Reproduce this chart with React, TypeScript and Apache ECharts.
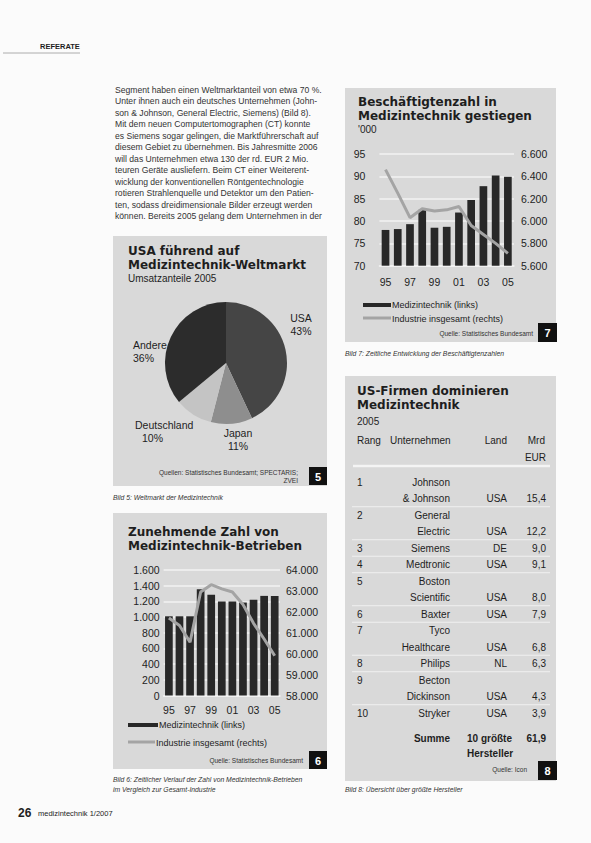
import React, { useEffect, useRef } from 'react';
import * as echarts from 'echarts';

// ---------- DATA ----------
const pieNames = ['USA', 'Japan', 'Deutschland', 'Andere'];
const pieShares = [43, 11, 10, 36];

const yearLabels = ['95', '96', '97', '98', '99', '00', '01', '02', '03', '04', '05'];
// Zunehmende Zahl von Medizintechnik-Betrieben
const betriebeMedizin = [1010, 1010, 1010, 1355, 1285, 1200, 1200, 1185, 1220, 1270, 1270];
const betriebeIndustrie = [61700, 61350, 60550, 62950, 63300, 63100, 62950, 62350, 61450, 60700, 59900];
// Beschäftigtenzahl ('000)
const beschMedizin = [78.0, 78.2, 79.3, 82.5, 78.5, 78.7, 81.9, 84.7, 87.8, 90.2, 89.9];
const beschIndustrie = [6460, 6250, 6030, 6110, 6090, 6100, 6130, 5960, 5880, 5800, 5710];

// Tabelle
const tableRanks = ['1', '2', '3', '4', '5', '6', '7', '8', '9', '10'];
const tableCompanies = [
  ['Johnson', '& Johnson'],
  ['General', 'Electric'],
  ['Siemens'],
  ['Medtronic'],
  ['Boston', 'Scientific'],
  ['Baxter'],
  ['Tyco', 'Healthcare'],
  ['Philips'],
  ['Becton', 'Dickinson'],
  ['Stryker'],
];
const tableCountries = ['USA', 'USA', 'DE', 'USA', 'USA', 'USA', 'USA', 'NL', 'USA', 'USA'];
const tableValues = [15.4, 12.2, 9.0, 9.1, 8.0, 7.9, 6.8, 6.3, 4.3, 3.9];
const tableSum = 61.9;

const paragraphLines = [
  'Segment haben einen Weltmarktanteil von etwa 70 %.',
  'Unter ihnen auch ein deutsches Unternehmen (John-',
  'son & Johnson, General Electric, Siemens) (Bild 8).',
  'Mit dem neuen Computertomographen (CT) konnte',
  'es Siemens sogar gelingen, die Marktführerschaft auf',
  'diesem Gebiet zu übernehmen. Bis Jahresmitte 2006',
  'will das Unternehmen etwa 130 der rd. EUR 2 Mio.',
  'teuren Geräte ausliefern. Beim CT einer Weiterent-',
  'wicklung der konventionellen Röntgentechnologie',
  'rotieren Strahlenquelle und Detektor um den Patien-',
  'ten, sodass dreidimensionale Bilder erzeugt werden',
  'können. Bereits 2005 gelang dem Unternehmen in der',
];

// ---------- STYLE ----------
const FF = '"Liberation Sans", Arial, sans-serif';
const FT = '"DejaVu Sans", "Liberation Sans", sans-serif';
const PANEL = '#d9d9d9';
const INK = '#1e1e1e';
const BAR = '#282828';
const LINE = '#a4a4a4';
const pieColors = ['#454545', '#8e8e8e', '#c4c4c4', '#2c2c2c'];
const pieLabelPos = [
  { x: 301, y: 318, align: 'center' },
  { x: 238, y: 433, align: 'center' },
  { x: 135, y: 425, align: 'left' },
  { x: 133, y: 345, align: 'left' },
];

const fmtDE = (v: number) => String(v).replace(/\B(?=(\d{3})+(?!\d))/g, '.');
const fmtComma = (v: number) => v.toFixed(1).replace('.', ',');

function txt(x: number, y: number, text: string, font: string, align = 'left', fill = INK): any {
  return {
    type: 'text',
    z: 20,
    silent: true,
    style: { x, y, text, font, fill, textAlign: align, textVerticalAlign: 'middle' },
  };
}
function rect(x: number, y: number, w: number, h: number, fill: string, z = 0): any {
  return { type: 'rect', z, silent: true, shape: { x, y, width: w, height: h }, style: { fill } };
}
function hline(x1: number, x2: number, y: number, stroke: string, lw: number, z = 1): any {
  return { type: 'line', z, silent: true, shape: { x1, y1: y, x2, y2: y }, style: { stroke, lineWidth: lw } };
}
function numBox(x: number, y: number, w: number, h: number, n: string): any[] {
  return [rect(x, y, w, h, '#111', 15), txt(x + w / 2, y + h / 2 + 0.5, n, `bold 11px ${FF}`, 'center', '#fff')];
}

export default function App() {
  const ref = useRef<HTMLDivElement>(null);
  useEffect(() => {
    if (!ref.current) return;
    const chart = echarts.init(ref.current, undefined, { renderer: 'svg' });

    const TITLE = `bold 12px ${FT}`;
    const SUB = `10px ${FF}`;
    const SRC = `6.5px ${FF}`;
    const CAP = `italic 6.8px ${FF}`;
    const LEG = `9px ${FF}`;
    const TAB = `10px ${FF}`;
    const TABB = `bold 10px ${FF}`;

    const g: any[] = [];
    // header / footer
    g.push(txt(40, 46, 'REFERATE', `bold 7.5px ${FF}`));
    g.push(hline(3, 80, 53, '#999', 0.8));
    g.push(txt(18, 813, '26', `bold 12px ${FF}`));
    g.push(txt(38, 813, 'medizintechnik 1/2007', `7.5px ${FF}`));

    // paragraph
    paragraphLines.forEach((l, i) => g.push(txt(115, 90 + i * 11.45, l, `8.6px ${FF}`, 'left', '#333')));

    // ---- Panel: Pie ----
    g.push(rect(113, 236, 214, 250, PANEL));
    g.push(txt(128, 251, 'USA führend auf', TITLE));
    g.push(txt(128, 265, 'Medizintechnik-Weltmarkt', TITLE));
    g.push(txt(128, 278, 'Umsatzanteile 2005', SUB));
    pieNames.forEach((n, i) => {
      const p = pieLabelPos[i];
      g.push(txt(p.x, p.y, n, `10.5px ${FF}`, p.align));
      g.push(txt(p.x + (p.align === 'left' && n === 'Deutschland' ? 7 : 0), p.y + 12.5, pieShares[i] + '%', `10.5px ${FF}`, p.align));
    });
    g.push(txt(298, 472, 'Quellen: Statistisches Bundesamt; SPECTARIS;', SRC, 'right', '#333'));
    g.push(txt(298, 480, 'ZVEI', SRC, 'right', '#333'));
    g.push(...numBox(309, 467, 18, 18, '5'));
    g.push(txt(113, 497, 'Bild 5: Weltmarkt der Medizintechnik', CAP, 'left', '#333'));

    // ---- Panel: Betriebe ----
    g.push(rect(113, 513, 214, 256, PANEL));
    g.push(txt(128, 532, 'Zunehmende Zahl von', TITLE));
    g.push(txt(128, 546, 'Medizintechnik-Betrieben', TITLE));
    g.push(rect(128, 723, 30, 4, BAR, 5));
    g.push(txt(159, 725, 'Medizintechnik (links)', LEG));
    g.push(hline(128, 155, 742, LINE, 3, 5));
    g.push(txt(156, 743, 'Industrie insgesamt (rechts)', LEG));
    g.push(txt(303, 760, 'Quelle: Statistisches Bundesamt', SRC, 'right', '#333'));
    g.push(...numBox(309, 751, 18, 18, '6'));
    g.push(txt(113, 779, 'Bild 6: Zeitlicher Verlauf der Zahl von Medizintechnik-Betrieben', CAP, 'left', '#333'));
    g.push(txt(113, 789, 'im Vergleich zur Gesamt-Industrie', CAP, 'left', '#333'));

    // ---- Panel: Beschäftigte ----
    g.push(rect(345, 88, 211, 254, PANEL));
    g.push(txt(358, 102, 'Beschäftigtenzahl in', TITLE));
    g.push(txt(358, 116, 'Medizintechnik gestiegen', TITLE));
    g.push(txt(358, 129.5, "'000", SUB));
    g.push(rect(363, 303, 28, 4, BAR, 5));
    g.push(txt(392, 305, 'Medizintechnik (links)', LEG));
    g.push(hline(363, 391, 318, LINE, 3, 5));
    g.push(txt(392, 319, 'Industrie insgesamt (rechts)', LEG));
    g.push(txt(533, 333, 'Quelle: Statistisches Bundesamt', SRC, 'right', '#333'));
    g.push(...numBox(538, 323, 19, 19, '7'));
    g.push(txt(345, 353, 'Bild 7: Zeitliche Entwicklung der Beschäftigtenzahlen', CAP, 'left', '#333'));

    // ---- Panel: Tabelle ----
    g.push(rect(345, 376, 211, 405, PANEL));
    g.push(txt(357, 391, 'US-Firmen dominieren', TITLE));
    g.push(txt(357, 405, 'Medizintechnik', TITLE));
    g.push(txt(357, 421, '2005', SUB));
    g.push(txt(357, 440, 'Rang', TAB));
    g.push(txt(390, 440, 'Unternehmen', TAB));
    g.push(txt(507, 440, 'Land', TAB, 'right'));
    g.push(txt(545, 440, 'Mrd', TAB, 'right'));
    g.push(txt(546, 457, 'EUR', TAB, 'right'));
    g.push(hline(353, 550, 466, '#f4f4f4', 2.5));
    let k = 0;
    const rowY = (i: number) => 482 + 16.5 * i;
    tableRanks.forEach((r, i) => {
      const lines = tableCompanies[i];
      g.push(txt(357, rowY(k), r, TAB));
      lines.forEach((c, j) => g.push(txt(450, rowY(k + j), c, TAB, 'right')));
      const last = k + lines.length - 1;
      g.push(txt(507, rowY(last), tableCountries[i], TAB, 'right'));
      g.push(txt(546, rowY(last), fmtComma(tableValues[i]), TAB, 'right'));
      if (i < tableRanks.length - 1) g.push(hline(352, 550, rowY(last) + 8.25, '#f0f0f0', 1));
      k = last + 1;
    });
    g.push(txt(450, 738, 'Summe', TABB, 'right'));
    g.push(txt(467, 738, '10 größte', TABB));
    g.push(txt(467, 753, 'Hersteller', TABB));
    g.push(txt(546, 738, fmtComma(tableSum), TABB, 'right'));
    g.push(txt(527, 769, 'Quelle: Icon', SRC, 'right', '#333'));
    g.push(...numBox(538, 761, 19, 19, '8'));
    g.push(txt(345, 789, 'Bild 8: Übersicht über größte Hersteller', CAP, 'left', '#333'));

    const axisLbl = { color: INK, fontSize: 10.5, fontFamily: FF };

    chart.setOption({
      animation: false,
      backgroundColor: '#fbfbfb',
      grid: [
        { left: 163.6, top: 570, width: 116.4, height: 125.5 },
        { left: 379.4, top: 154, width: 134.6, height: 111.7 },
      ],
      xAxis: [
        {
          gridIndex: 0, type: 'category', data: yearLabels,
          axisTick: { show: false },
          axisLine: { show: true, lineStyle: { color: '#f2f2f2', width: 1.5 } },
          axisLabel: { ...axisLbl, interval: 1, margin: 9 },
        },
        {
          gridIndex: 1, type: 'category', data: yearLabels,
          axisTick: { show: false },
          axisLine: { show: true, lineStyle: { color: '#f2f2f2', width: 1.5 } },
          axisLabel: { ...axisLbl, interval: 1, margin: 11 },
        },
      ],
      yAxis: [
        {
          gridIndex: 0, type: 'value', position: 'left', min: 0, max: 1600, interval: 200,
          axisLine: { show: false }, axisTick: { show: false },
          axisLabel: { ...axisLbl, margin: 4, formatter: fmtDE },
          splitLine: { show: true, lineStyle: { color: '#f2f2f2', width: 1.5 } },
        },
        {
          gridIndex: 0, type: 'value', position: 'right', min: 58000, max: 64000, interval: 1000,
          axisLine: { show: false }, axisTick: { show: false },
          axisLabel: { ...axisLbl, margin: 6, formatter: fmtDE },
          splitLine: { show: false },
        },
        {
          gridIndex: 1, type: 'value', position: 'left', min: 70, max: 95, interval: 5,
          axisLine: { show: false }, axisTick: { show: false },
          axisLabel: { ...axisLbl, margin: 14 },
          splitLine: { show: true, lineStyle: { color: '#f2f2f2', width: 1.5 } },
        },
        {
          gridIndex: 1, type: 'value', position: 'right', min: 5600, max: 6600, interval: 200,
          axisLine: { show: false }, axisTick: { show: false },
          axisLabel: { ...axisLbl, margin: 7, formatter: fmtDE },
          splitLine: { show: false },
        },
      ],
      series: [
        {
          type: 'bar', xAxisIndex: 0, yAxisIndex: 0, data: betriebeMedizin,
          barWidth: 7.7, itemStyle: { color: BAR }, silent: true,
        },
        {
          type: 'line', xAxisIndex: 0, yAxisIndex: 1, data: betriebeIndustrie,
          symbol: 'none', lineStyle: { color: LINE, width: 3 }, z: 3, silent: true,
        },
        {
          type: 'bar', xAxisIndex: 1, yAxisIndex: 2, data: beschMedizin,
          barWidth: 7.7, itemStyle: { color: BAR }, silent: true,
        },
        {
          type: 'line', xAxisIndex: 1, yAxisIndex: 3, data: beschIndustrie,
          symbol: 'none', lineStyle: { color: LINE, width: 3 }, z: 3, silent: true,
        },
        {
          type: 'pie', center: [226, 363], radius: 61, startAngle: 90, clockwise: true,
          silent: true, label: { show: false }, labelLine: { show: false },
          data: pieNames.map((n, i) => ({ name: n, value: pieShares[i], itemStyle: { color: pieColors[i] } })),
        },
      ],
      graphic: { elements: g },
    });

    return () => chart.dispose();
  }, []);

  return <div ref={ref} style={{ position: 'absolute', left: 0, top: 0, width: 591, height: 843 }} />;
}
